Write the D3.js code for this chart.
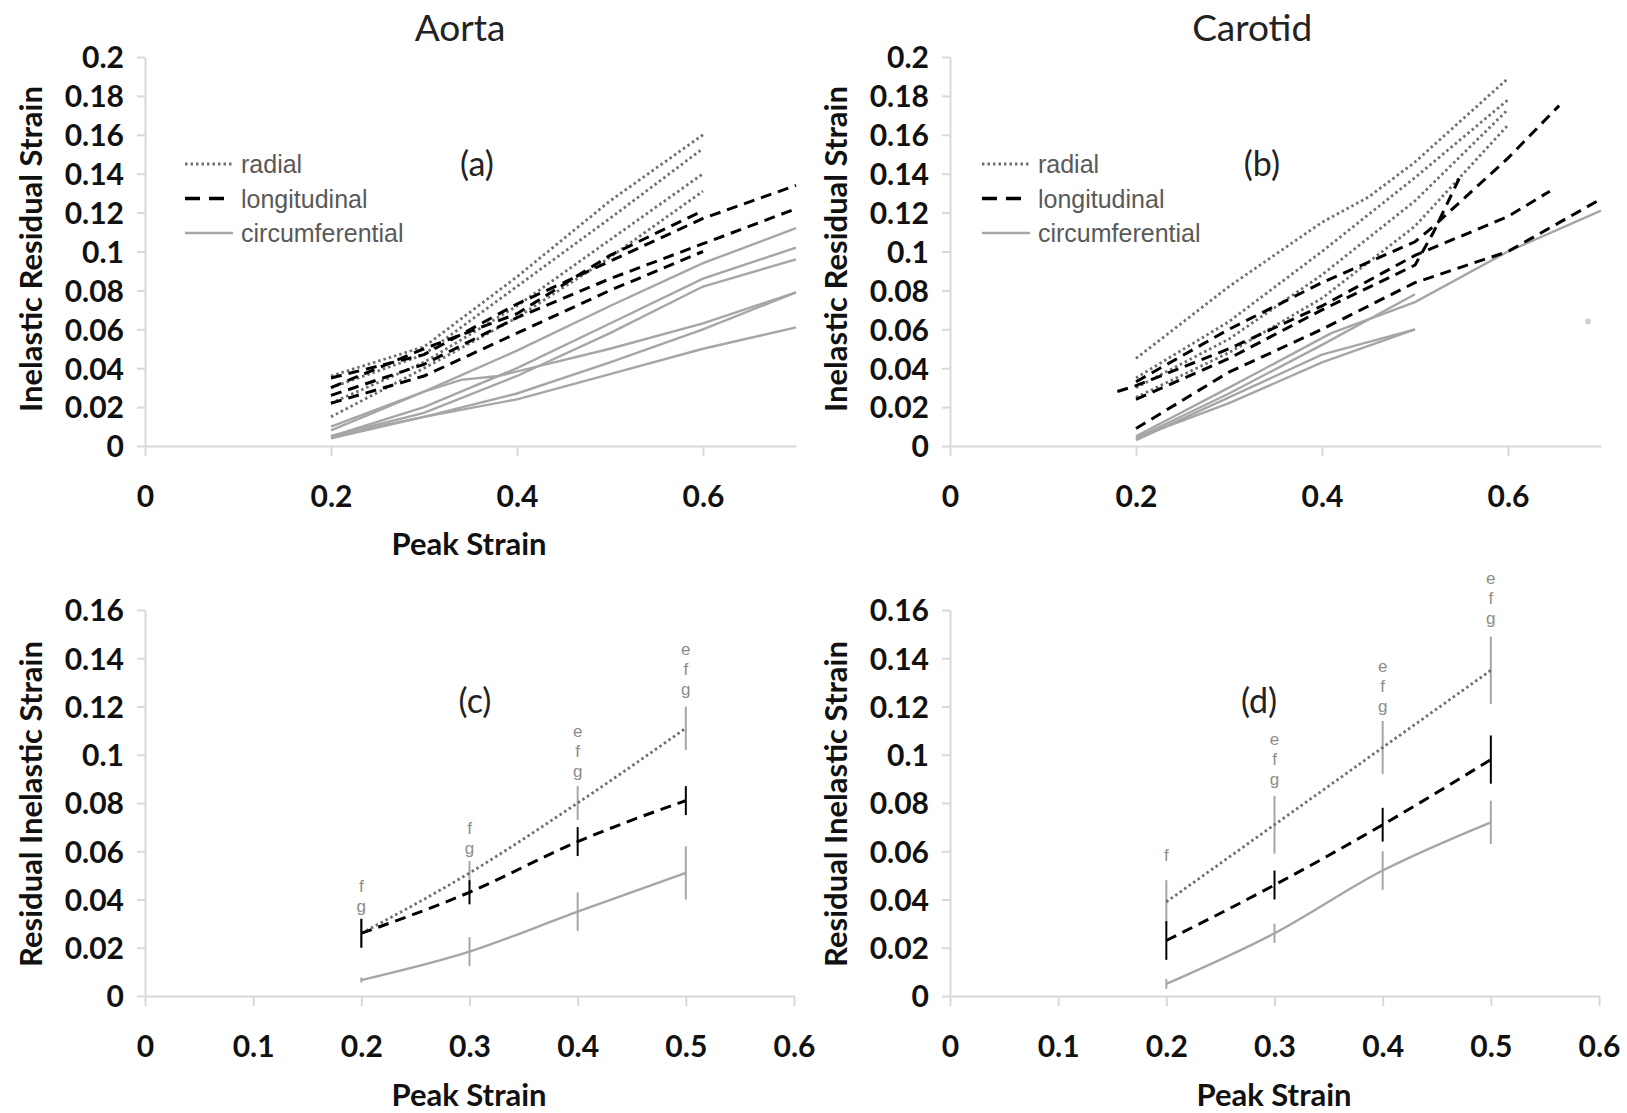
<!DOCTYPE html>
<html>
<head>
<meta charset="utf-8">
<script src="https://cdn.jsdelivr.net/npm/d3@7"></script>
<style>
  body { margin: 0; background: #fff; }
</style>
</head>
<body>
<div id="chart"></div>
<script>
// Inelastic residual strain vs peak strain, aorta and carotid
const width = 1627;
const height = 1113;

// ---- top panels: individual specimens, [peak strain, residual strain] ----
const aortaRadial = [
  [[0.2, 0.036], [0.3, 0.051], [0.4, 0.087], [0.5, 0.126], [0.6, 0.160]],
  [[0.2, 0.030], [0.3, 0.047], [0.4, 0.082], [0.5, 0.117], [0.6, 0.153]],
  [[0.2, 0.022], [0.3, 0.043], [0.4, 0.072], [0.5, 0.106], [0.6, 0.140]],
  [[0.2, 0.015], [0.3, 0.040], [0.4, 0.066], [0.5, 0.097], [0.6, 0.131]]
];
const aortaLong = [
  [[0.2, 0.035], [0.3, 0.047], [0.4, 0.073], [0.5, 0.095], [0.6, 0.117], [0.7, 0.134]],
  [[0.2, 0.026], [0.3, 0.042], [0.4, 0.066], [0.5, 0.086], [0.6, 0.104], [0.7, 0.122]],
  [[0.2, 0.030], [0.3, 0.050], [0.4, 0.068], [0.5, 0.098], [0.6, 0.121]],
  [[0.2, 0.022], [0.3, 0.036], [0.4, 0.058], [0.5, 0.080], [0.6, 0.100]]
];
const aortaCirc = [
  [[0.2, 0.010], [0.3, 0.028], [0.4, 0.049], [0.5, 0.072], [0.6, 0.094], [0.7, 0.112]],
  [[0.2, 0.008], [0.3, 0.028], [0.34, 0.034], [0.38, 0.036], [0.5, 0.050], [0.6, 0.063], [0.7, 0.079]],
  [[0.2, 0.005], [0.3, 0.020], [0.4, 0.040], [0.5, 0.063], [0.6, 0.086], [0.7, 0.102]],
  [[0.2, 0.005], [0.3, 0.017], [0.4, 0.036], [0.5, 0.058], [0.6, 0.082], [0.7, 0.096]],
  [[0.2, 0.005], [0.3, 0.015], [0.4, 0.027], [0.5, 0.043], [0.6, 0.060], [0.7, 0.079]],
  [[0.2, 0.004], [0.3, 0.015], [0.4, 0.024], [0.5, 0.037], [0.6, 0.050], [0.7, 0.061]]
];

const carotidRadial = [
  [[0.2, 0.045], [0.3, 0.082], [0.4, 0.115], [0.45, 0.128], [0.5, 0.146], [0.6, 0.189]],
  [[0.2, 0.035], [0.3, 0.064], [0.4, 0.100], [0.5, 0.138], [0.6, 0.178]],
  [[0.2, 0.030], [0.3, 0.055], [0.4, 0.088], [0.5, 0.126], [0.6, 0.173]],
  [[0.2, 0.025], [0.3, 0.048], [0.4, 0.076], [0.5, 0.113], [0.6, 0.165]]
];
const carotidLong = [
  [[0.18, 0.028], [0.2, 0.031], [0.3, 0.050], [0.4, 0.072], [0.5, 0.098], [0.6, 0.118], [0.645, 0.131]],
  [[0.2, 0.033], [0.3, 0.060], [0.4, 0.084], [0.5, 0.105], [0.52, 0.113], [0.6, 0.148], [0.655, 0.175]],
  [[0.2, 0.024], [0.3, 0.045], [0.4, 0.070], [0.5, 0.093], [0.52, 0.110], [0.55, 0.140]],
  [[0.2, 0.009], [0.3, 0.038], [0.4, 0.060], [0.5, 0.084], [0.6, 0.100], [0.7, 0.127]]
];
const carotidCirc = [
  [[0.2, 0.005], [0.3, 0.030], [0.41, 0.058], [0.5, 0.074], [0.6, 0.100], [0.7, 0.121]],
  [[0.2, 0.004], [0.3, 0.027], [0.4, 0.052], [0.5, 0.078]],
  [[0.2, 0.003], [0.3, 0.025], [0.4, 0.047], [0.5, 0.060]],
  [[0.2, 0.004], [0.3, 0.022], [0.4, 0.043], [0.5, 0.060]]
];
const carotidStray = [[0.686, 0.064]];

// ---- bottom panels: means and error bars ----
const peakStrain = [0.2, 0.3, 0.4, 0.5];

const aortaRadialMean = [0.026, 0.051, 0.080, 0.111];
const aortaRadialErr = [0.006, 0.005, 0.007, 0.009];
const aortaLongMean = [0.026, 0.043, 0.064, 0.081];
const aortaLongErr = [0.006, 0.005, 0.006, 0.006];
const aortaCircMean = [0.0066, 0.0184, 0.035, 0.051];
const aortaCircErr = [0.001, 0.006, 0.008, 0.011];
const aortaLetters = ["fg", "fg", "efg", "efg"];
const aortaLetterBase = [0.037, 0.061, 0.093, 0.127];

const carotidRadialMean = [0.039, 0.071, 0.103, 0.135];
const carotidRadialErr = [0.009, 0.012, 0.011, 0.014];
const carotidLongMean = [0.023, 0.046, 0.071, 0.098];
const carotidLongErr = [0.008, 0.006, 0.007, 0.010];
const carotidCircMean = [0.005, 0.026, 0.052, 0.072];
const carotidCircErr = [0.002, 0.004, 0.008, 0.009];
const carotidLetters = ["f", "efg", "efg", "efg"];
const carotidLetterBase = [0.058, 0.0895, 0.12, 0.1565];

const topYTicks = [0, 0.02, 0.04, 0.06, 0.08, 0.1, 0.12, 0.14, 0.16, 0.18, 0.2];
const topXTicks = [0, 0.2, 0.4, 0.6];
const bottomYTicks = [0, 0.02, 0.04, 0.06, 0.08, 0.1, 0.12, 0.14, 0.16];
const bottomXTicks = [0, 0.1, 0.2, 0.3, 0.4, 0.5, 0.6];

const legendItems = ["radial", "longitudinal", "circumferential"];

// line styles
const style = {
  radial: { stroke: "#6e6e6e", width: 2.8, dash: "2.5,3" },
  longitudinal: { stroke: "#000", width: 3, dash: "11,7" },
  circumferential: { stroke: "#a6a6a6", width: 2.4, dash: null }
};

const boldFont = "Lato, 'Open Sans', sans-serif";
const plainFont = "'Liberation Sans', Arial, sans-serif";

const fmt = d => String(+d.toFixed(2));

const svg = d3.select("#chart")
  .append("svg")
  .attr("width", width)
  .attr("height", height)
  .attr("viewBox", [0, 0, width, height])
  .style("font-family", boldFont);

function styleLine(sel, s) {
  sel.attr("fill", "none")
    .attr("stroke", s.stroke)
    .attr("stroke-width", s.width)
    .attr("stroke-dasharray", s.dash);
}

function drawAxes(g, x, y, xTicks, yTicks) {
  const yAxis = g.append("g")
    .attr("transform", `translate(${x.range()[0]},0)`)
    .call(d3.axisLeft(y).tickValues(yTicks).tickSize(8).tickSizeOuter(0).tickPadding(13).tickFormat(fmt));

  const xAxis = g.append("g")
    .attr("transform", `translate(0,${y(0)})`)
    .call(d3.axisBottom(x).tickValues(xTicks).tickSize(10).tickSizeOuter(0).tickFormat(fmt));

  [yAxis, xAxis].forEach(a => {
    a.select(".domain").attr("stroke", "#d9d9d9").attr("stroke-width", 2);
    a.selectAll(".tick line").attr("stroke", "#d9d9d9").attr("stroke-width", 2);
    a.selectAll(".tick text")
      .attr("fill", "#111")
      .attr("font-size", 30)
      .attr("font-weight", "bold")
      .attr("font-family", boldFont);
  });
  yAxis.selectAll(".tick text").attr("dy", "0.36em");
  xAxis.selectAll(".tick text").attr("y", 50).attr("dy", "0.36em");
}

function yTitle(g, text, cx, cy) {
  g.append("text")
    .attr("transform", `translate(${cx},${cy}) rotate(-90)`)
    .attr("text-anchor", "middle")
    .attr("dy", "0.36em")
    .attr("font-size", 31)
    .attr("font-weight", "bold")
    .attr("fill", "#111")
    .text(text);
}

function xTitle(g, cx, cy) {
  g.append("text")
    .attr("x", cx)
    .attr("y", cy)
    .attr("text-anchor", "middle")
    .attr("dy", "0.36em")
    .attr("font-size", 31)
    .attr("font-weight", "bold")
    .attr("fill", "#111")
    .text("Peak Strain");
}

function panelLabel(g, text, cx, cy) {
  g.append("text")
    .attr("x", cx)
    .attr("y", cy)
    .attr("text-anchor", "middle")
    .attr("dy", "0.36em")
    .attr("font-size", 34)
    .attr("fill", "#222")
    .text(text);
}

// ---- top panels ----
function topPanel(dx, title, label, radial, longi, circ, showXTitle, stray) {
  const g = svg.append("g");
  const x = d3.scaleLinear().domain([0, 0.7]).range([145 + dx, 796 + dx]);
  const y = d3.scaleLinear().domain([0, 0.2]).range([446, 57]);
  drawAxes(g, x, y, topXTicks, topYTicks);

  const line = d3.line().x(d => x(d[0])).y(d => y(d[1]));

  g.append("g").selectAll("path").data(circ).join("path")
    .attr("d", line).call(styleLine, style.circumferential);
  g.append("g").selectAll("path").data(radial).join("path")
    .attr("d", line).call(styleLine, style.radial);
  g.append("g").selectAll("path").data(longi).join("path")
    .attr("d", line).call(styleLine, style.longitudinal);

  if (stray) {
    g.selectAll("circle.stray").data(stray).join("circle")
      .attr("class", "stray")
      .attr("cx", d => x(d[0])).attr("cy", d => y(d[1]))
      .attr("r", 3).attr("fill", "#d0d0d0");
  }

  // legend
  const lg = g.append("g").attr("transform", `translate(${185 + dx * 0.99},164)`);
  legendItems.forEach((name, i) => {
    const row = lg.append("g").attr("transform", `translate(0,${i * 34.5})`);
    const s = style[name];
    row.append("line")
      .attr("x1", 0).attr("x2", 48).attr("y1", 0).attr("y2", 0)
      .attr("stroke", s.stroke)
      .attr("stroke-width", name === "longitudinal" ? 3.5 : s.width)
      .attr("stroke-dasharray", name === "longitudinal" ? "15,9" : s.dash);
    row.append("text")
      .attr("x", 56).attr("y", 0).attr("dy", "0.36em")
      .style("font-family", plainFont)
      .attr("font-size", 25)
      .attr("fill", "#595959")
      .text(name);
  });

  g.append("text")
    .attr("x", 460 + dx * 0.984).attr("y", 28)
    .attr("text-anchor", "middle").attr("dy", "0.36em")
    .attr("font-size", 37).attr("fill", "#222")
    .text(title);

  panelLabel(g, label, 477 + dx * 0.975, 164);
  yTitle(g, "Inelastic Residual Strain", 31 + dx, 249);
  if (showXTitle) xTitle(g, 469 + dx, 544);
}

// ---- bottom panels ----
function bottomPanel(dx, label, series, letters, letterBase) {
  const g = svg.append("g");
  const x = d3.scaleLinear().domain([0, 0.6]).range([145 + dx, 794 + dx]);
  const y = d3.scaleLinear().domain([0, 0.16]).range([996, 610]);
  drawAxes(g, x, y, bottomXTicks, bottomYTicks);

  const line = d3.line().x(d => x(d[0])).y(d => y(d[1])).curve(d3.curveMonotoneX);

  // error bars
  series.forEach(s => {
    const barColor = s.key === "longitudinal" ? "#000" : "#a6a6a6";
    g.append("g").selectAll("line").data(peakStrain).join("line")
      .attr("x1", d => x(d)).attr("x2", d => x(d))
      .attr("y1", (d, i) => y(s.mean[i] - s.err[i]))
      .attr("y2", (d, i) => y(s.mean[i] + s.err[i]))
      .attr("stroke", barColor)
      .attr("stroke-width", 2);
  });

  // mean lines
  series.forEach(s => {
    g.append("path")
      .datum(peakStrain.map((p, i) => [p, s.mean[i]]))
      .attr("d", line)
      .call(styleLine, style[s.key]);
  });

  // significance letters stacked above radial bars
  peakStrain.forEach((p, i) => {
    const chars = letters[i].split("").reverse();
    chars.forEach((c, j) => {
      g.append("text")
        .attr("x", x(p))
        .attr("y", y(letterBase[i]) - j * 20)
        .attr("dy", "0.3em")
        .attr("text-anchor", "middle")
        .style("font-family", plainFont)
        .attr("font-size", 17)
        .attr("fill", "#8c8c8c")
        .text(c);
    });
  });

  panelLabel(g, label, 475 + dx * 0.974, 701);
  yTitle(g, "Residual Inelastic Strain", 31 + dx, 804);
  xTitle(g, 469 + dx, 1095);
}

topPanel(0, "Aorta", "(a)", aortaRadial, aortaLong, aortaCirc, true, null);
topPanel(805, "Carotid", "(b)", carotidRadial, carotidLong, carotidCirc, false, carotidStray);

bottomPanel(0, "(c)", [
  { key: "circumferential", mean: aortaCircMean, err: aortaCircErr },
  { key: "radial", mean: aortaRadialMean, err: aortaRadialErr },
  { key: "longitudinal", mean: aortaLongMean, err: aortaLongErr }
], aortaLetters, aortaLetterBase);

bottomPanel(805, "(d)", [
  { key: "circumferential", mean: carotidCircMean, err: carotidCircErr },
  { key: "radial", mean: carotidRadialMean, err: carotidRadialErr },
  { key: "longitudinal", mean: carotidLongMean, err: carotidLongErr }
], carotidLetters, carotidLetterBase);
</script>
</body>
</html>
